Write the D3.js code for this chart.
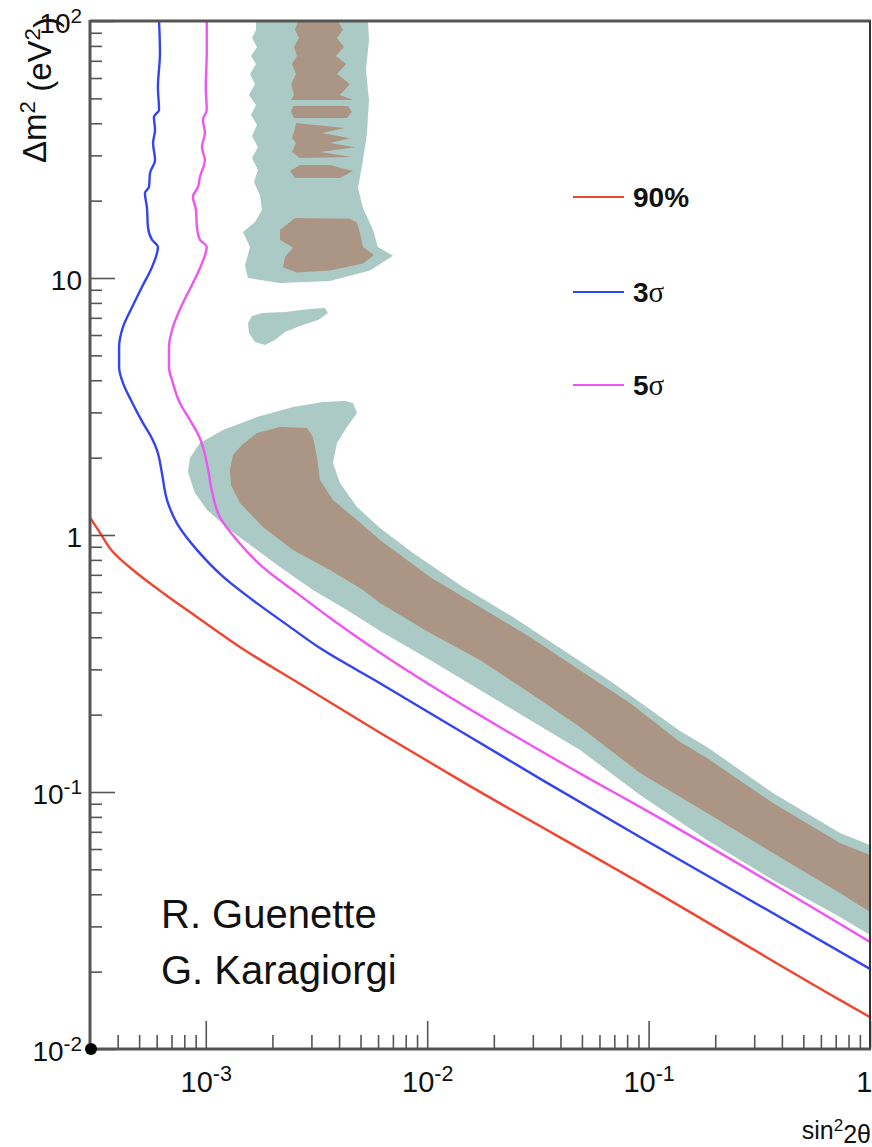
<!DOCTYPE html>
<html>
<head>
<meta charset="utf-8">
<script src="https://cdn.jsdelivr.net/npm/d3@7"></script>
<style>
  html, body { margin: 0; padding: 0; background: #fff; }
  svg { display: block; }
  text { font-family: "Liberation Sans", Arial, sans-serif; }
</style>
</head>
<body>
<script>
// ---------------- DATA (sin^2 2theta, delta m^2 [eV^2]) ----------------
const xMajorTicks = [1e-3, 1e-2, 1e-1, 1];
const yMajorTicks = [1e-2, 1e-1, 1, 10, 100];

// sensitivity curves
const curve90 = [[3.0e-4,1.17],[3.33e-4,1.02],[3.81e-4,0.859],[4.69e-4,0.731],[6.41e-4,0.595],[9.12e-4,0.480],[1.43e-3,0.366],[2.67e-3,0.263],[6.12e-3,0.170],[1.41e-2,0.111],[9.14e-2,0.0443],[0.733,0.0155],[1.0,0.0133]];
const curve3s = [[6.15e-4,100],[6.21e-4,75.1],[6.08e-4,55.3],[6.15e-4,45.1],[5.83e-4,42.3],[5.90e-4,37.7],[5.78e-4,33.5],[5.90e-4,28.8],[5.60e-4,25.6],[5.54e-4,22.6],[5.31e-4,21.4],[5.42e-4,18.9],[5.48e-4,15.8],[5.71e-4,14.1],[6.08e-4,13.2],[5.71e-4,11.0],[5.15e-4,9.23],[4.65e-4,7.71],[4.23e-4,6.45],[4.06e-4,5.39],[4.06e-4,4.51],[4.23e-4,3.90],[4.59e-4,3.35],[5.20e-4,2.73],[5.71e-4,2.38],[6.02e-4,2.14],[6.34e-4,1.74],[6.68e-4,1.37],[7.41e-4,1.11],[9.12e-4,0.875],[1.20e-3,0.687],[1.70e-3,0.543],[2.33e-3,0.447],[3.28e-3,0.363],[6.12e-3,0.265],[3.33e-2,0.111],[9.14e-2,0.0668],[1.0,0.0205]];
const curve5s = [[1.01e-3,100],[1.01e-3,75.1],[1.00e-3,55.3],[1.01e-3,45.1],[9.71e-4,41.2],[9.91e-4,36.7],[9.61e-4,32.3],[9.91e-4,28.8],[9.41e-4,24.7],[9.22e-4,22.6],[8.75e-4,20.7],[9.03e-4,18.4],[9.12e-4,15.8],[9.41e-4,14.1],[1.01e-3,13.2],[9.61e-4,11.4],[8.75e-4,9.56],[7.88e-4,7.99],[7.11e-4,6.45],[6.82e-4,5.39],[6.82e-4,4.51],[7.11e-4,3.90],[7.64e-4,3.26],[8.49e-4,2.80],[9.41e-4,2.38],[9.71e-4,2.20],[1.02e-3,1.84],[1.07e-3,1.46],[1.16e-3,1.17],[1.38e-3,0.957],[1.81e-3,0.750],[2.58e-3,0.594],[3.75e-3,0.467],[5.69e-3,0.363],[5.27e-2,0.114],[9.14e-2,0.0875],[1.0,0.0261]];

// allowed regions: outer (green) and inner (brown)
const outerLow = [[8.31e-4,1.758],[8.48e-4,1.994],[9.41e-4,2.280],[1.196e-3,2.562],[1.703e-3,2.878],[2.477e-3,3.149],[3.384e-3,3.292],[4.254e-3,3.322],[4.622e-3,3.263],[4.819e-3,2.983],[4.343e-3,2.632],[3.913e-3,2.280],[3.754e-3,1.906],[4.038e-3,1.593],[4.819e-3,1.285],[6.12e-3,1.065],[8.63e-3,0.851],[1.451e-2,0.628],[2.441e-2,0.480],[4.106e-2,0.357],[6.91e-2,0.2655],[0.1387,0.1727],[0.1836,0.1496],[0.3646,0.0991],[0.732,0.0693],[1.0,0.0622],[1.0,0.0278],[0.732,0.0326],[0.3646,0.0455],[0.1836,0.0650],[9.15e-2,0.0973],[4.90e-2,0.1457],[2.913e-2,0.1906],[1.732e-2,0.2494],[1.030e-2,0.326],[6.12e-3,0.423],[4.343e-3,0.511],[3.050e-3,0.611],[2.164e-3,0.751],[1.634e-3,0.898],[1.286e-3,1.046],[1.013e-3,1.251],[8.94e-4,1.457]];
const innerLow = [[1.286e-3,1.790],[1.327e-3,2.048],[1.457e-3,2.240],[1.703e-3,2.494],[2.164e-3,2.632],[2.865e-3,2.608],[3.050e-3,2.406],[3.178e-3,2.012],[3.28e-3,1.637],[3.754e-3,1.368],[4.819e-3,1.144],[6.12e-3,0.956],[1.030e-2,0.686],[1.732e-2,0.525],[2.913e-2,0.401],[4.90e-2,0.298],[8.24e-2,0.2220],[0.1387,0.1565],[0.1836,0.1356],[0.3646,0.0906],[0.732,0.0633],[1.0,0.0569],[1.0,0.0341],[0.732,0.0405],[0.3646,0.0579],[0.1836,0.0829],[9.15e-2,0.1186],[4.90e-2,0.1790],[2.913e-2,0.2428],[1.732e-2,0.326],[1.030e-2,0.416],[6.12e-3,0.544],[5.13e-3,0.611],[3.639e-3,0.731],[2.477e-3,0.874],[1.813e-3,1.074],[1.427e-3,1.332],[1.300e-3,1.565]];
const outerHigh = [[1.686e-3,100],[1.686e-3,92.3],[1.617e-3,85.9],[1.703e-3,79.2],[1.600e-3,73.1],[1.686e-3,68.0],[1.584e-3,62.2],[1.668e-3,56.9],[1.567e-3,51.5],[1.686e-3,47.1],[1.600e-3,43.1],[1.703e-3,39.4],[1.617e-3,35.7],[1.721e-3,32.3],[1.617e-3,29.3],[1.721e-3,26.3],[1.651e-3,23.6],[1.757e-3,21.0],[1.794e-3,18.4],[1.668e-3,16.5],[1.473e-3,15.1],[1.584e-3,13.2],[1.504e-3,11.2],[1.551e-3,10.0],[2.164e-3,9.56],[3.639e-3,9.73],[5.52e-3,10.7],[7.01e-3,12.2],[5.99e-3,13.2],[5.69e-3,15.4],[5.13e-3,18.7],[4.87e-3,22.4],[5.13e-3,28.8],[5.35e-3,36.7],[5.46e-3,49.3],[5.29e-3,64.5],[5.46e-3,84.4],[5.40e-3,100]];
const outerIsland = [[1.551e-3,6.68],[1.617e-3,7.11],[1.794e-3,7.31],[2.28e-3,7.38],[2.956e-3,7.57],[3.454e-3,7.64],[3.565e-3,7.31],[3.212e-3,6.87],[2.664e-3,6.51],[2.28e-3,6.17],[2.054e-3,5.74],[1.851e-3,5.49],[1.668e-3,5.64],[1.567e-3,6.11]];
const innerHighA = [[2.609e-3,100],[2.53e-3,92.3],[2.64e-3,85.9],[2.503e-3,79.2],[2.58e-3,73.1],[2.452e-3,68.0],[2.555e-3,62.2],[2.43e-3,56.9],[2.503e-3,51.5],[2.43e-3,49.3],[4.622e-3,49.3],[4.038e-3,51.5],[4.48e-3,56.9],[3.913e-3,62.2],[4.30e-3,68.0],[3.87e-3,73.1],[4.21e-3,79.2],[3.913e-3,85.9],[4.166e-3,92.3],[3.955e-3,100]];
const innerHighB = [[2.477e-3,46.7],[4.389e-3,46.7],[4.575e-3,44.3],[4.343e-3,41.9],[2.503e-3,41.9],[2.43e-3,44.3]];
const innerHighC = [[2.555e-3,40.1],[4.254e-3,38.3],[3.349e-3,36.7],[4.48e-3,35.0],[3.639e-3,33.5],[4.72e-3,32.3],[3.28e-3,30.9],[4.575e-3,29.6],[2.664e-3,29.3],[2.452e-3,30.9],[2.555e-3,33.5],[2.452e-3,35.0],[2.53e-3,38.3]];
const innerHighD = [[2.401e-3,26.1],[2.664e-3,27.5],[3.639e-3,27.5],[4.622e-3,26.1],[4.038e-3,24.5],[2.53e-3,24.5]];
const innerHighE = [[2.53e-3,17.1],[4.48e-3,17.0],[4.819e-3,16.4],[4.97e-3,14.96],[5.13e-3,13.2],[5.75e-3,12.3],[5.13e-3,11.4],[3.639e-3,10.7],[2.58e-3,10.5],[2.232e-3,11.0],[2.28e-3,12.1],[2.477e-3,13.1],[2.164e-3,14.1],[2.164e-3,15.4]];

const legendLabels = ["90%", "3", "5"];
const legendSuffix = ["", "σ", "σ"];
const creditLines = ["R. Guenette", "G. Karagiorgi"];

// ---------------- DRAWING ----------------
const W = 872, H = 1147;
const L = 90, R = 870, T = 21, B = 1049;
const svg = d3.select("body").append("svg").attr("width", W).attr("height", H);

const x = d3.scaleLog().domain([3e-4, 1]).range([L, R]);
const y = d3.scaleLog().domain([1e-2, 100]).range([B, T]);

svg.append("defs").append("clipPath").attr("id", "clip")
  .append("rect").attr("x", L).attr("y", T).attr("width", R - L).attr("height", B - T);

const plot = svg.append("g").attr("clip-path", "url(#clip)");
const area = d3.line().x(d => x(d[0])).y(d => y(d[1])).curve(d3.curveLinearClosed);
const GREEN = "#abcac5", BROWN = "#ab9685";

[outerLow, outerHigh, outerIsland].forEach(p =>
  plot.append("path").attr("d", area(p)).attr("fill", GREEN));
[innerLow, innerHighA, innerHighB, innerHighC, innerHighD, innerHighE].forEach(p =>
  plot.append("path").attr("d", area(p)).attr("fill", BROWN));

// curves are monotone in delta m^2, so a monotone-in-y spline keeps them smooth
const line = d3.line().x(d => x(d[0])).y(d => y(d[1])).curve(d3.curveMonotoneY);
const COLORS = ["#f0452f", "#3344f0", "#ee55f2"];
[curve90, curve3s, curve5s].forEach((c, i) =>
  plot.append("path").attr("d", line(c)).attr("fill", "none")
    .attr("stroke", COLORS[i]).attr("stroke-width", 2.4));

// minor ticks
function minors(lo, hi) {
  const out = [];
  for (let e = Math.floor(Math.log10(lo)); e < Math.ceil(Math.log10(hi)); e++)
    for (let m = 2; m <= 9; m++) { const v = m * Math.pow(10, e); if (v > lo * 1.0001 && v < hi) out.push(v); }
  return out;
}
function supLabel(sel, v) {
  const e = Math.round(Math.log10(v));
  sel.text(null);
  if (e === 0) { sel.text("1"); return; }
  if (e === 1) { sel.text("10"); return; }
  sel.append("tspan").text("10");
  sel.append("tspan").attr("dy", "-0.5em").attr("font-size", "0.74em").text(e);
}

const axCol = "#555";
// Y axis
const yMinorG = svg.append("g").attr("transform", `translate(${L},0)`)
  .call(d3.axisLeft(y).tickValues(minors(1e-2, 100)).tickSize(-12).tickFormat(""));
const yMajorG = svg.append("g").attr("transform", `translate(${L},0)`)
  .call(d3.axisLeft(y).tickValues(yMajorTicks).tickSize(-25).tickPadding(8));
yMajorG.selectAll(".tick text").each(function(d) { supLabel(d3.select(this), d); })
  .attr("font-size", 28).attr("fill", "#111").attr("dy", "0.42em");
// X axis
const xMinorG = svg.append("g").attr("transform", `translate(0,${B})`)
  .call(d3.axisBottom(x).tickValues(minors(3e-4, 1)).tickSize(-14).tickFormat(""));
const xMajorG = svg.append("g").attr("transform", `translate(0,${B})`)
  .call(d3.axisBottom(x).tickValues(xMajorTicks).tickSize(-28).tickPadding(22));
xMajorG.selectAll(".tick text").each(function(d) { supLabel(d3.select(this), d); })
  .attr("font-size", 29).attr("fill", "#111")
  .filter(d => d === 1).attr("text-anchor", "end").attr("x", 2);
[yMinorG, yMajorG, xMinorG, xMajorG].forEach(g => {
  g.select(".domain").remove();
  g.selectAll(".tick line").attr("stroke", axCol).attr("stroke-width", 1.6);
});

// frame
svg.append("line").attr("x1", L).attr("x2", R + 1).attr("y1", T).attr("y2", T).attr("stroke", axCol).attr("stroke-width", 3);
svg.append("line").attr("x1", R).attr("x2", R).attr("y1", T).attr("y2", B).attr("stroke", "#333").attr("stroke-width", 2);
svg.append("line").attr("x1", L).attr("x2", L).attr("y1", T - 1).attr("y2", B).attr("stroke", axCol).attr("stroke-width", 3);
svg.append("line").attr("x1", L).attr("x2", R + 1).attr("y1", B).attr("y2", B).attr("stroke", axCol).attr("stroke-width", 3);
svg.append("circle").attr("cx", L + 1).attr("cy", B).attr("r", 6).attr("fill", "#000");

// axis titles
const xt = svg.append("text").attr("x", 871).attr("y", 1139).attr("text-anchor", "end")
  .attr("font-size", 25).attr("fill", "#111");
xt.append("tspan").text("sin");
xt.append("tspan").attr("dy", "-0.5em").attr("font-size", "0.68em").text("2");
xt.append("tspan").attr("dy", "0.5em").text("2θ");

const yt = svg.append("text").attr("transform", "translate(46,17) rotate(-90)")
  .attr("text-anchor", "end").attr("font-size", 33).attr("fill", "#111");
yt.append("tspan").text("Δm");
yt.append("tspan").attr("dy", "-0.5em").attr("font-size", "0.68em").text("2");
yt.append("tspan").attr("dy", "0.5em").text(" (eV");
yt.append("tspan").attr("dy", "-0.5em").attr("font-size", "0.68em").text("2");
yt.append("tspan").attr("dy", "0.5em").text(")");

// legend
const legY = [197, 292, 385];
legendLabels.forEach((lab, i) => {
  svg.append("line").attr("x1", 573).attr("x2", 624).attr("y1", legY[i]).attr("y2", legY[i])
    .attr("stroke", COLORS[i]).attr("stroke-width", 2.2);
  const t = svg.append("text").attr("x", 633).attr("y", legY[i] + 10)
    .attr("font-size", 28).attr("font-weight", "bold").attr("fill", "#111");
  t.append("tspan").text(lab);
  if (legendSuffix[i]) t.append("tspan").attr("font-family", "'Liberation Serif', 'DejaVu Serif', serif")
    .attr("font-weight", "normal").attr("font-size", 29).text(legendSuffix[i]);
});

// credits
creditLines.forEach((s, i) => {
  svg.append("text").attr("x", 161).attr("y", 928 + i * 56).attr("font-family", "Lato, 'Open Sans', sans-serif")
    .attr("font-size", 40).attr("fill", "#111").text(s);
});
</script>
</body>
</html>
